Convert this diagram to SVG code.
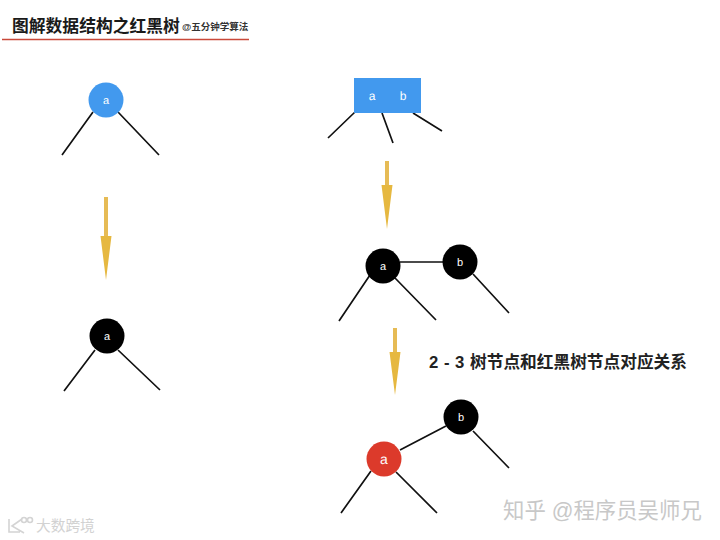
<svg xmlns="http://www.w3.org/2000/svg" width="720" height="540" viewBox="0 0 720 540">
<style>
.cj{font-family:"Liberation Sans","Noto Sans CJK SC",sans-serif}
.edge{stroke:#111;stroke-width:1.7;fill:none}
.lbl{font-family:"Liberation Sans",Arial,sans-serif;fill:#fff;text-anchor:middle;font-size:11px;text-rendering:geometricPrecision}
.box{font-size:12px}
.arrow{fill:#e6b840}
.shaft{stroke:#e6bb55;stroke-width:4;fill:none}
.mark{stroke:#d4d4d4;stroke-width:1.6;fill:none}
</style>
<rect width="720" height="540" fill="#fff"/>
<g id="title">
<text class="cj" x="12" y="31.5" font-size="16.8" font-weight="700" fill="#1a1a1a">图解数据结构之红黑树</text>
<text class="cj" x="182" y="29.5" font-size="9.5" font-weight="700" fill="#333">@五分钟学算法</text>
<line x1="2" y1="39.5" x2="249" y2="39.5" stroke="#c9493a" stroke-width="1.4"/>
</g>
<g id="connectors">
<path class="edge" d="M93 112L62 155M118 112L159 155"/>
<path class="edge" d="M95 350L64 391M118 350L160 390"/>
<path class="edge" d="M355 112L328 138M382 113L393 143M413 113L442 131"/>
<path class="edge" d="M370 275L339 321M395 278L436 320M400 262L445 262M473 274L509 313"/>
<path class="edge" d="M371 471L341 513M396 472L437 513M400 450L446 426M473 431L509 468"/>
<path class="shaft" d="M106 197V238M387 161V186M395 328V353"/>
<path class="arrow" d="M100.500 236H111.500L106 280ZM381.500 185H392.500L387 229ZM389.500 352H400.500L395 395Z"/>
</g>
<g id="node-a-blue"><circle cx="106" cy="100" r="17.500" fill="#4299ee"/><text class="lbl" x="106" y="104">a</text></g>
<g id="node-a-black-left"><circle cx="107" cy="336" r="17.500" fill="#000"/><text class="lbl" x="107" y="340">a</text></g>
<g id="node-ab"><rect x="354" y="78" width="67" height="35" fill="#4299ee"/><text class="lbl box" x="372" y="100">a</text><text class="lbl box" x="403" y="100">b</text></g>
<g id="node-a-black"><circle cx="383" cy="266" r="17.500" fill="#000"/><text class="lbl" x="383" y="270">a</text></g>
<g id="node-b-black"><circle cx="460" cy="262" r="17.500" fill="#000"/><text class="lbl" x="460" y="266">b</text></g>
<g id="node-a-red"><circle cx="384" cy="459" r="17.500" fill="#dc3a2b"/><text class="lbl" x="384" y="464" style="font-size:14px">a</text></g>
<g id="node-b-black2"><circle cx="461" cy="417" r="17.500" fill="#000"/><text class="lbl" x="461" y="421">b</text></g>
<g id="caption"><text class="cj" x="429" y="368" font-size="16.700" font-weight="700" fill="#222"><tspan letter-spacing=".5">2 - 3 </tspan>树节点和红黑树节点对应关系</text></g>
<g id="watermarks">
<text class="cj" x="503" y="518" font-size="21.400" fill="#c8c8c8">知乎 @程序员吴师兄</text>
<path class="mark" d="M9 519V532H20M22 519L12 526L24 533"/>
<circle class="mark" cx="24" cy="520" r="2.500"/>
<circle class="mark" cx="30" cy="520" r="2.500"/>
<text class="cj" x="36" y="531" font-size="14.700" fill="#d2d2d2">大数跨境</text>
</g>
</svg>
